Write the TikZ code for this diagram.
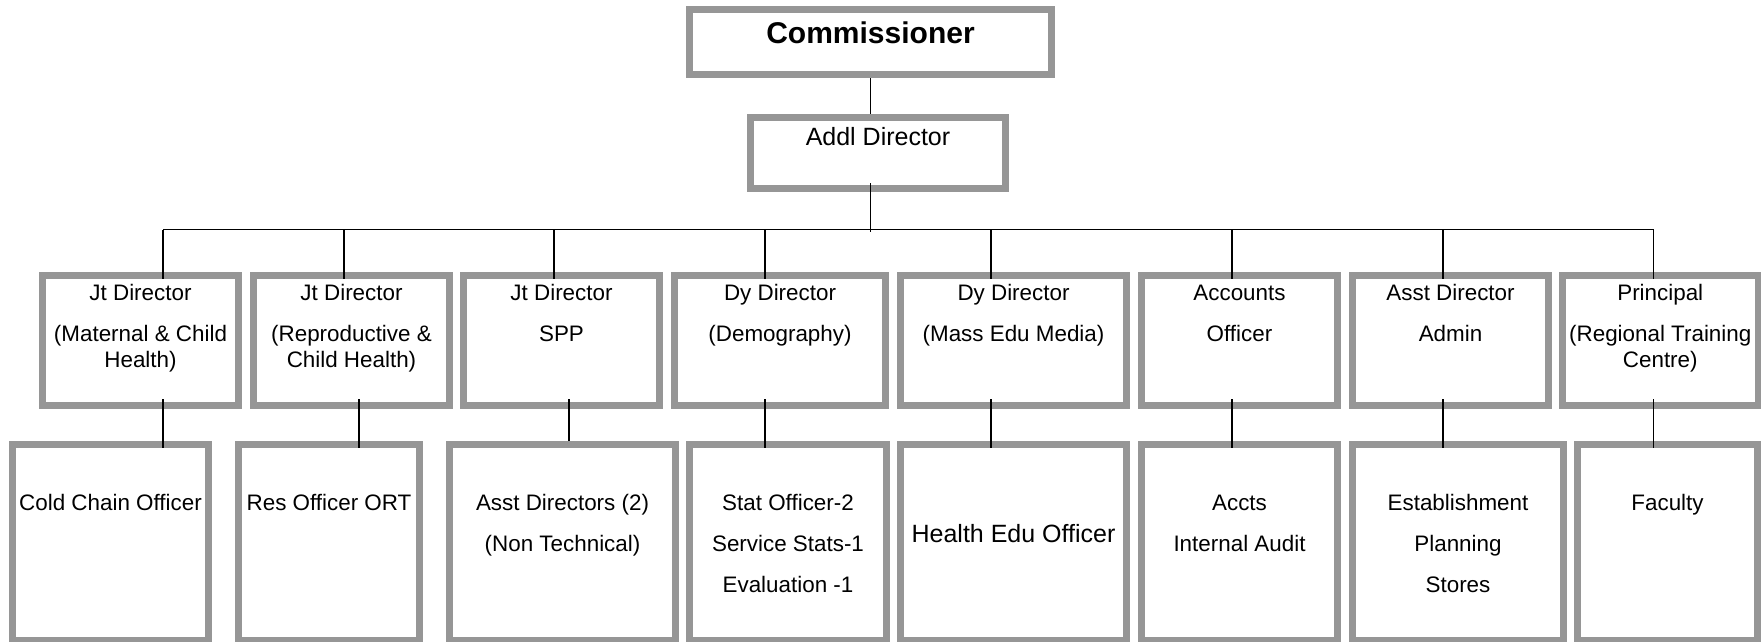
\documentclass[tikz,border=0pt]{standalone}
\usepackage{fontspec}
\setmainfont{Liberation Sans}
\usetikzlibrary{positioning}
\definecolor{boxgray}{RGB}{150,150,150}

\begin{document}
\begin{tikzpicture}[x=1pt,y=-1pt,
  box/.style = {draw=boxgray, line width=7pt, fill=white, inner sep=0pt, outer sep=0pt, anchor=north west, align=center, font=\fontsize{22.4}{26}\selectfont},
  upper2/.style = {box, text height=65.8pt, text depth=64.5pt},
  upper3/.style = {box, text height=91.8pt, text depth=38.5pt},
  lower1/.style = {box, text height=66.3pt, text depth=129.7pt},
  lower2/.style = {box, text height=107.3pt, text depth=88.7pt},
  lower3/.style = {box, text height=148.3pt, text depth=47.7pt},
  conn/.style = {draw, line width=1.3pt}]
\useasboundingbox (0,0) rectangle (1761,641);
\node[box, font=\bfseries\fontsize{30}{36}\selectfont, minimum width=362pt, text height=34pt, text depth=31.3pt] (comm) at (689.5,9.5) {Commissioner};
\node[box, font=\fontsize{25}{30}\selectfont, minimum width=255.6pt, text height=27.2pt, text depth=43.2pt] (addl) at (750.2,117.8) {Addl Director};
\node[upper3, minimum width=196pt] (jd1) at (42.5,275.2) {Jt Director\\[14.3pt](Maternal \& Child\\Health)};
\node[upper3, minimum width=196pt] (jd2) [right=15pt of jd1] {Jt Director\\[14.3pt](Reproductive \&\\Child Health)};
\node[upper2, minimum width=196pt] (jd3) [right=14pt of jd2] {Jt Director\\[14.3pt]SPP};
\node[upper2, minimum width=211pt] (dd1) [right=15pt of jd3] {Dy Director\\[14.3pt](Demography)};
\node[upper2, minimum width=226pt] (dd2) [right=15pt of dd1] {Dy Director\\[14.3pt](Mass Edu Media)};
\node[upper2, minimum width=196pt] (ao) [right=15pt of dd2] {Accounts\\[14.3pt]Officer};
\node[upper2, minimum width=196pt] (ad) [right=15pt of ao] {Asst Director\\[14.3pt]Admin};
\node[upper3, minimum width=195.5pt] (pr) [right=14pt of ad] {Principal\\[14.3pt](Regional Training\\Centre)};
\node[lower1, minimum width=196pt] (cc) at (12.5,444) {Cold Chain Officer};
\node[lower1, minimum width=181pt] (ro) [right=30pt of cc] {Res Officer ORT};
\node[lower2, minimum width=226pt] (as) [right=30pt of ro] {Asst Directors (2)\\[15pt](Non Technical)};
\node[lower3, minimum width=197pt] (so) [right=14pt of as] {Stat Officer-2\\[15pt]Service Stats-1\\[15pt]Evaluation -1};
\node[lower1, minimum width=226pt, font=\fontsize{25}{30}\selectfont, text height=98.5pt, text depth=97.5pt] (he) [right=14pt of so] {Health Edu Officer};
\node[lower2, minimum width=196pt] (ac) [right=15pt of he] {Accts\\[15pt]Internal Audit};
\node[lower3, minimum width=211pt] (es) [right=15pt of ac] {Establishment\\[15pt]Planning\\[15pt]Stores};
\node[lower1, minimum width=180pt] (fa) [right=14pt of es] {Faculty};
\coordinate (bus) at (870.5,229.5);
\coordinate (d1) at (163,229.5);
\coordinate (d2) at (344,229.5);
\coordinate (d3) at (554,229.5);
\coordinate (d4) at (765,229.5);
\coordinate (d5) at (991,229.5);
\coordinate (d6) at (1232,229.5);
\coordinate (d7) at (1443,229.5);
\coordinate (d8) at (1653.5,229.5);
\coordinate (k2) at (359,400);
\coordinate (k3) at (569,400);
\draw[conn, shorten <=3.5pt, shorten >=3.5pt] (comm.south) -- (comm.south |- addl.north);
\draw[conn, shorten <=-5pt, shorten >=-2pt] (bus |- addl.south) -- (bus);
\draw[conn] (d1) -- (d8);
\draw[conn, shorten >=-3.5pt] (d1) -- (d1 |- jd1.north);
\draw[conn, shorten >=-3.5pt] (d2) -- (d2 |- jd2.north);
\draw[conn, shorten >=-3.5pt] (d3) -- (d3 |- jd3.north);
\draw[conn, shorten >=-3.5pt] (d4) -- (d4 |- dd1.north);
\draw[conn, shorten >=-3.5pt] (d5) -- (d5 |- dd2.north);
\draw[conn, shorten >=-3.5pt] (d6) -- (d6 |- ao.north);
\draw[conn, shorten >=-3.5pt] (d7) -- (d7 |- ad.north);
\draw[conn, shorten >=-3.5pt] (d8) -- (d8 |- pr.north);
\draw[conn, shorten <=-6.5pt, shorten >=-3.5pt] (d1 |- jd1.south) -- (d1 |- cc.north);
\draw[conn, shorten <=-6.5pt, shorten >=-3.5pt] (k2 |- jd2.south) -- (k2 |- ro.north);
\draw[conn, shorten <=-6.5pt, shorten >=3.5pt] (k3 |- jd3.south) -- (k3 |- as.north);
\draw[conn, shorten <=-6.5pt, shorten >=-3.5pt] (d4 |- dd1.south) -- (d4 |- so.north);
\draw[conn, shorten <=-6.5pt, shorten >=-3.5pt] (d5 |- dd2.south) -- (d5 |- he.north);
\draw[conn, shorten <=-6.5pt, shorten >=-3.5pt] (d6 |- ao.south) -- (d6 |- ac.north);
\draw[conn, shorten <=-6.5pt, shorten >=-3.5pt] (d7 |- ad.south) -- (d7 |- es.north);
\draw[conn, shorten <=-6.5pt, shorten >=-3.5pt] (d8 |- pr.south) -- (d8 |- fa.north);
\end{tikzpicture}
\end{document}
